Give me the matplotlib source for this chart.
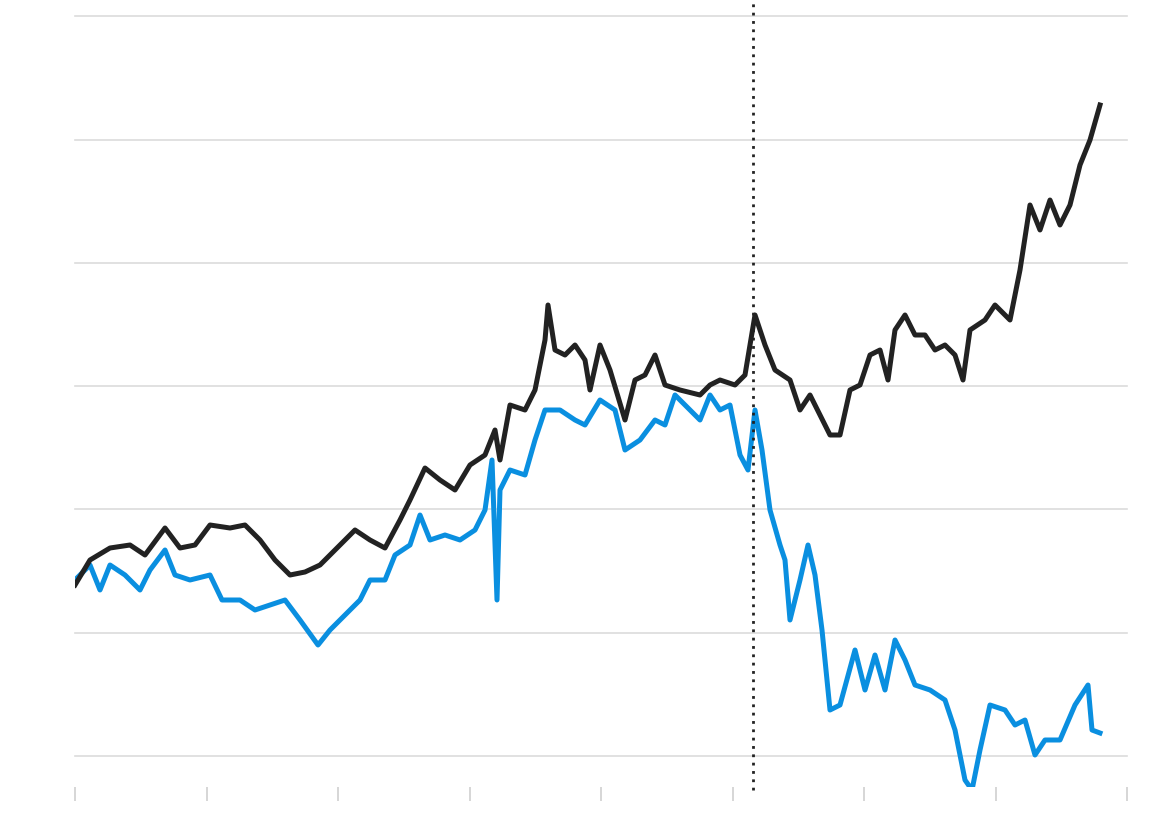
import numpy as np
import matplotlib.pyplot as plt

# (day from start, index level) pairs, arbitrary units
black_pts = [(0, 171), (15, 196), (35, 208), (55, 211), (70, 201), (90, 228), (105, 208), (120, 211),
             (135, 231), (155, 228), (170, 231), (185, 216), (200, 196), (215, 181), (230, 184),
             (245, 191), (265, 211), (280, 226), (295, 216), (310, 208), (325, 236), (335, 256),
             (350, 288), (365, 276), (380, 266), (395, 291), (410, 301), (420, 326), (425, 296),
             (435, 351), (450, 346), (460, 366), (470, 416), (473, 451), (480, 406), (490, 401),
             (500, 411), (510, 396), (515, 366), (525, 411), (535, 386), (550, 336), (560, 376),
             (570, 381), (580, 401), (590, 371), (605, 366), (625, 361), (635, 371), (645, 376),
             (660, 371), (670, 381), (680, 441), (690, 411), (700, 386), (715, 376), (725, 346),
             (735, 361), (745, 341), (755, 321), (765, 321), (775, 366), (785, 371), (795, 401),
             (805, 406), (813, 376), (820, 426), (830, 441), (840, 421), (850, 421), (860, 406),
             (870, 411), (880, 401), (888, 376), (895, 426), (910, 436), (920, 451), (935, 436),
             (945, 486), (955, 551), (965, 526), (975, 556), (985, 531), (995, 551), (1005, 591),
             (1015, 616), (1025, 651)]

blue_pts = [(0, 176), (15, 191), (25, 166), (35, 191), (50, 181), (65, 166), (75, 186), (90, 206),
            (100, 181), (115, 176), (135, 181), (147, 156), (165, 156), (180, 146), (195, 151),
            (210, 156), (225, 136), (243, 111), (255, 126), (270, 141), (285, 156), (295, 176),
            (310, 176), (320, 201), (335, 211), (345, 241), (355, 216), (370, 221), (385, 216),
            (400, 226), (410, 246), (417, 296), (422, 156), (425, 266), (435, 286), (450, 281),
            (460, 316), (470, 346), (485, 346), (500, 336), (510, 331), (525, 356), (540, 346),
            (550, 306), (565, 316), (580, 336), (590, 331), (600, 361), (615, 346), (625, 336),
            (635, 361), (645, 346), (655, 351), (665, 301), (673, 286), (680, 346), (687, 306),
            (695, 246), (705, 211), (710, 196), (715, 136), (725, 176), (733, 211), (740, 181),
            (747, 126), (755, 46), (765, 51), (780, 106), (790, 66), (800, 101), (810, 66),
            (820, 116), (830, 96), (840, 71), (855, 66), (870, 56), (880, 26), (890, -24),
            (897, -34), (905, 6), (915, 51), (930, 46), (940, 31), (950, 36), (960, 1), (970, 16),
            (985, 16), (1000, 51), (1013, 71), (1017, 26), (1025, 23)]

black_x, black_y = zip(*black_pts)
blue_x, blue_y = zip(*blue_pts)

event_x = 678
x_ticks = np.arange(0, 1053, 131.5)
y_grid = np.arange(0, 741, 123.3)

fig = plt.figure(figsize=(11.68, 8.4), dpi=100)
ax = fig.add_axes([75 / 1168, 53 / 840, 1052 / 1168, 771 / 840])

for g in y_grid:
    ax.axhline(g, color='#dcdcdc', lw=1.2, zorder=0, clip_on=False)

ax.plot(black_x, black_y, color='#222222', lw=3.6, solid_joinstyle='round', zorder=3)
ax.plot(blue_x, blue_y, color='#0a8fe0', lw=3.6, solid_joinstyle='round', zorder=2)
ax.plot([event_x, event_x], [-34, 760], color='#222222', lw=2, ls=(0, (1, 2)),
        clip_on=False, zorder=4)

ax.set_xlim(0, 1052)
ax.set_ylim(-31, 740)
ax.set_xticks(x_ticks)
ax.set_xticklabels([])
ax.set_yticks([])
ax.tick_params(axis='x', length=10, width=1.2, color='#d0d0d0')
for s in ax.spines.values():
    s.set_visible(False)

fig.savefig('out.png', dpi=100)
